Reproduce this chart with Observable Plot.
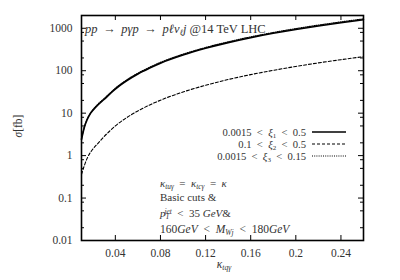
<!DOCTYPE html>
<html><head><meta charset="utf-8">
<script src="https://cdn.jsdelivr.net/npm/d3@7"></script>
<script src="https://cdn.jsdelivr.net/npm/@observablehq/plot@0.6"></script>
<style>body{margin:0;background:#fff}#chart{width:400px;height:280px}</style>
</head><body><div id="chart"></div>
<script>
// ---- data ----
const kappa = [0.01,0.0125,0.015,0.0175,0.02,0.025,0.03,0.035,0.04,0.05,0.06,0.07,0.08,0.10,0.12,0.14,0.16,0.18,0.20,0.22,0.24,0.26];
const sigmaXi1 = [2.4,4.6,7.0,9.4,11.5,16,21,28,37,58,84,114,150,234,337,459,600,760,938,1135,1350,1590];
const sigmaXi2 = [0.36,0.58,0.86,1.15,1.42,2.0,2.8,3.8,5.0,7.8,11.3,15.4,20.2,31.5,45.4,62,81,102,126,153,182,214];
const sigmaXi3 = [2.5,4.8,7.3,9.7,12.0,16.7,22,29.3,38.6,60.5,87.5,119,157,245,352,480,627,795,981,1187,1412,1665];
const xTicks = [0.04,0.08,0.12,0.16,0.2,0.24];
const xTickLabels = ["0.04","0.08","0.12","0.16","0.2","0.24"];
const yTicks = [0.01,0.1,1,10,100,1000];
const yTickLabels = ["0.01","0.1","1","10","100","1000"];
const yMinorTicks = [0.02,0.05,0.08,0.2,0.5,0.8,2,5,8,20,50,80,200,500,800];

// ---- layout ----
const W = 400, H = 280, mL = 81, mR = 37, mT = 15, mB = 40;
const innerW = W - mL - mR, innerH = H - mT - mB;
const FONT = "'Liberation Serif','DejaVu Serif',serif";
const TXT = "#333";
const LT = "\u2002<\u2002";

const rows = (vals) => kappa.map((k, i) => ({k, s: vals[i]}));
const styles = [
  {stroke: "#000", strokeWidth: 1.6},
  {stroke: "#000", strokeWidth: 1.1, strokeDasharray: "3,2"},
  {stroke: "#000", strokeWidth: 1.2, strokeDasharray: "1,1.2"}
];
const allSeries = [sigmaXi1, sigmaXi2, sigmaXi3];

const plot = Plot.plot({
  width: W, height: H,
  marginLeft: mL, marginRight: mR, marginTop: mT, marginBottom: mB,
  style: {fontFamily: FONT, fontSize: "11.5px", color: TXT, background: "#fff"},
  x: {type: "linear", domain: [0.01, 0.26]},
  y: {type: "log", domain: [0.01, 2000]},
  marks: [
    Plot.axisX(xTicks, {tickSize: 0, tickPadding: 8, tickFormat: d => xTickLabels[xTicks.indexOf(d)], label: null}),
    Plot.axisY(yTicks, {tickSize: 0, tickPadding: 9, tickFormat: d => yTickLabels[yTicks.indexOf(d)], label: null}),
    Plot.tickX(xTicks, {x: d => d, insetTop: innerH - 5, stroke: "#000"}),
    Plot.tickX(xTicks, {x: d => d, insetBottom: innerH - 5, stroke: "#000"}),
    Plot.tickY(yTicks, {y: d => d, insetRight: innerW - 5, stroke: "#000"}),
    Plot.tickY(yTicks, {y: d => d, insetLeft: innerW - 5, stroke: "#000"}),
    Plot.tickY(yMinorTicks, {y: d => d, insetRight: innerW - 3, stroke: "#000"}),
    Plot.tickY(yMinorTicks, {y: d => d, insetLeft: innerW - 3, stroke: "#000"}),
    ...allSeries.map((vals, i) => Plot.line(rows(vals), {x: "k", y: "s", curve: "monotone-x", ...styles[i]})),
    Plot.frame({stroke: "#000", strokeWidth: 1.6})
  ]
});
document.getElementById("chart").appendChild(plot);

// ---- rich text annotations ----
const svg = d3.select(plot);
function rich(x, y, parts, {anchor = "start", size = 11.5, rotate = null} = {}) {
  const t = svg.append("text")
    .attr("x", x).attr("y", y)
    .attr("text-anchor", anchor)
    .attr("font-family", FONT)
    .attr("font-size", size)
    .attr("fill", TXT);
  if (rotate != null) t.attr("transform", `rotate(${rotate},${x},${y})`);
  let off = 0;
  for (const p of parts) {
    const [str, o = {}] = typeof p === "string" ? [p] : p;
    let target = 0;
    let fs = size;
    if (o.sub) { target = size * 0.15; fs = size * 0.66; }
    if (o.sup) { target = -size * 0.3; fs = size * 0.66; }
    const s = t.append("tspan").text(str).attr("font-size", fs).attr("dy", target - off);
    if (o.dx) s.attr("dx", o.dx);
    if (o.i) s.attr("font-style", "italic");
    off = target;
  }
  if (off !== 0) t.append("tspan").text("").attr("dy", -off);
  return t;
}

// Title inside the plot
rich(85, 33, [["pp", {i:1}], " \u2009→\u2009 ", ["pγp", {i:1}], " \u2009→\u2009 ", ["pℓν", {i:1}], ["ℓ", {i:1, sub:1}], ["j", {i:1}], " @14 TeV LHC"], {size: 12.5});

// Legend
const legendY = [132, 144, 156];
const legendParts = [
  ["0.0015" + LT, ["ξ", {i:1}], ["1", {sub:1}], LT + "0.5"],
  ["0.1" + LT, ["ξ", {i:1}], ["2", {sub:1}], LT + "0.5"],
  ["0.0015" + LT, ["ξ", {i:1}], ["3", {sub:1}], LT + "0.15"]
];
legendParts.forEach((parts, i) => {
  rich(306, legendY[i] + 4, parts, {anchor: "end", size: 10.6});
  const ln = svg.append("line")
    .attr("x1", 312).attr("x2", 346).attr("y1", legendY[i]).attr("y2", legendY[i])
    .attr("stroke", "#000").attr("stroke-width", styles[i].strokeWidth);
  if (styles[i].strokeDasharray) ln.attr("stroke-dasharray", styles[i].strokeDasharray);
});

// Cuts annotation
rich(160, 187, [["κ", {i:1}], ["tuγ", {i:1, sub:1}], "\u2002=\u2002", ["κ", {i:1}], ["tcγ", {i:1, sub:1}], "\u2002=\u2002", ["κ", {i:1}]], {size: 11});
rich(160, 201, ["Basic cuts &"], {size: 11});
rich(160, 217, [["p", {i:1}], ["T", {i:1, sub:1}], ["jet", {i:1, sup:1, dx:-5}], LT + "35 ", ["GeV", {i:1}], "&"], {size: 11});
rich(160, 233, ["160", ["GeV", {i:1}], LT, ["M", {i:1}], ["Wj", {i:1, sub:1}], LT + "180", ["GeV", {i:1}]], {size: 11.5});

// Axis titles
rich(22, 126, [["σ", {i:1}], "[fb]"], {anchor: "middle", size: 11.5, rotate: -90});
rich(224, 268, [["κ", {i:1}], ["tqγ", {i:1, sub:1}]], {anchor: "middle", size: 11.5});
</script></body></html>
